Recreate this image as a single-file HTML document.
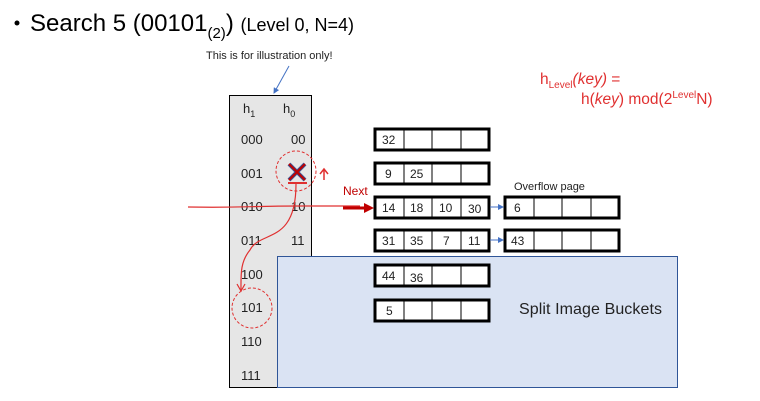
<!DOCTYPE html>
<html><head><meta charset="utf-8"><style>
html,body{margin:0;padding:0;background:#fff;width:760px;height:401px;overflow:hidden}
svg{display:block}
text{font-family:"Liberation Sans","Noto Sans CJK KR",sans-serif}
</style></head><body>
<svg width="760" height="401" viewBox="0 0 760 401" xmlns="http://www.w3.org/2000/svg">
<defs>
<marker id="bl" markerWidth="6" markerHeight="6" refX="5" refY="3" orient="auto"><path d="M0,0 L6,3 L0,6z" fill="#4472c4"/></marker>
</defs>
<circle cx="17" cy="23" r="2.5" fill="#000"/>
<text x="30" y="31" font-size="24" fill="#000">Search 5 (00101<tspan font-size="15" dy="7">(2)</tspan><tspan dy="-7">)</tspan> <tspan font-size="18">(Level 0, N=4)</tspan></text>
<text x="206" y="59" font-size="11" fill="#222">This is for illustration only!</text>
<line x1="289" y1="66" x2="274" y2="93" stroke="#4472c4" stroke-width="1" marker-end="url(#bl)"/>
<text x="540" y="84" font-size="15.5" fill="#e03030">h<tspan font-size="10" dy="4">Level</tspan><tspan dy="-4" font-style="italic">(key)</tspan> =</text>
<text x="581" y="104" font-size="15.5" fill="#e03030">h(<tspan font-style="italic">key</tspan>) mod(2<tspan font-size="10" dy="-6">Level</tspan><tspan dy="6">N)</tspan></text>
<rect x="229.5" y="95.5" width="82" height="292" fill="#e6e6e6" stroke="#000"/>
<rect x="277.5" y="256.5" width="400" height="131" fill="#dae3f3" stroke="#2f5597"/>
<text x="519" y="314" font-size="16" fill="#222" textLength="143">Split Image Buckets</text>
<g font-size="13" fill="#222">
<text x="243" y="113">h<tspan font-size="9" dy="4">1</tspan></text>
<text x="283" y="113">h<tspan font-size="9" dy="4">0</tspan></text>
<text x="241" y="144">000</text><text x="291" y="144">00</text>
<text x="241" y="178">001</text>
<text x="241" y="211">010</text><text x="291" y="211">10</text>
<text x="241" y="245">011</text><text x="291" y="245">11</text>
<text x="241" y="279">100</text>
<text x="241" y="312">101</text>
<text x="241" y="346">110</text>
<text x="241" y="380">111</text>
</g>
<g font-size="12" fill="#222" stroke-width="1">
<rect x="375" y="129" width="114" height="21" fill="#fff" stroke="#000" stroke-width="3"/>
<path d="M404 129v21M432 129v21M461 129v21" stroke="#000"/>
<text x="382" y="144">32</text>
<rect x="375" y="163" width="114" height="21" fill="#fff" stroke="#000" stroke-width="3"/>
<path d="M404 163v21M432 163v21M461 163v21" stroke="#000"/>
<text x="385" y="178">9</text><text x="410" y="178">25</text>
<rect x="375" y="197" width="114" height="21" fill="#fff" stroke="#000" stroke-width="3"/>
<path d="M404 197v21M432 197v21M461 197v21" stroke="#000"/>
<text x="382" y="212">14</text><text x="410" y="212">18</text><text x="439" y="212">10</text><text x="468" y="213">30</text>
<rect x="375" y="230" width="114" height="21" fill="#fff" stroke="#000" stroke-width="3"/>
<path d="M404 230v21M432 230v21M461 230v21" stroke="#000"/>
<text x="382" y="245">31</text><text x="410" y="245">35</text><text x="443" y="245">7</text><text x="468" y="245">11</text>
<rect x="375" y="265" width="114" height="21" fill="#fff" stroke="#000" stroke-width="3"/>
<path d="M404 265v21M432 265v21M461 265v21" stroke="#000"/>
<text x="382" y="280">44</text><text x="410" y="282">36</text>
<rect x="375" y="300" width="114" height="21" fill="#fff" stroke="#000" stroke-width="3"/>
<path d="M404 300v21M432 300v21M461 300v21" stroke="#000"/>
<text x="386" y="315">5</text>
<rect x="505" y="197" width="114" height="21" fill="#fff" stroke="#000" stroke-width="3"/>
<path d="M534 197v21M562 197v21M591 197v21" stroke="#000"/>
<text x="514" y="212">6</text>
<rect x="505" y="230" width="114" height="21" fill="#fff" stroke="#000" stroke-width="3"/>
<path d="M534 230v21M562 230v21M591 230v21" stroke="#000"/>
<text x="511" y="245">43</text>
</g>
<text x="514" y="190" font-size="11" fill="#222">Overflow page</text>
<line x1="490" y1="207" x2="503" y2="207" stroke="#4472c4" marker-end="url(#bl)"/>
<line x1="490" y1="240" x2="503" y2="240" stroke="#4472c4" marker-end="url(#bl)"/>
<circle cx="296" cy="171" r="20" fill="none" stroke="#e03030" stroke-dasharray="3,2"/>
<path d="M289 164l16 16M305 164l-16 16" stroke="#3d4f8f" stroke-width="4"/>
<path d="M289 164l16 16M305 164l-16 16" stroke="#c00000" stroke-width="2"/>
<line x1="288" y1="183" x2="307" y2="183" stroke="#e03030" stroke-width="2"/>
<text x="343" y="195" font-size="12" fill="#c00000">Next</text>
<path d="M324 180v-10M320 174l4-5 4 5" stroke="#e03030" fill="none" stroke-width="1.5"/>
<path d="M188 207 C240 208 250 206 300 206 L360 206" stroke="#e03030" fill="none" stroke-width="1.2"/>
<path d="M343 208 H364" stroke="#c00000" stroke-width="3"/>
<path d="M364 203 L374 208 L364 213z" fill="#c00000"/>
<path d="M296 184 C296 245 260 230 250 250 C240 262 241 275 241 290" stroke="#e03030" fill="none" stroke-width="1.2"/>
<path d="M237 284 L241 291 L245 284" stroke="#e03030" fill="none" stroke-width="1.2"/>
<circle cx="252" cy="308" r="20" fill="none" stroke="#e03030" stroke-dasharray="3,2"/>
</svg>
</body></html>
